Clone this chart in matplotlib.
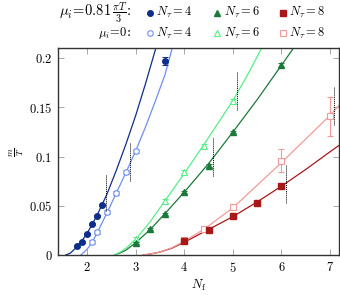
import matplotlib
matplotlib.use("Agg")
import matplotlib.pyplot as plt
from matplotlib.lines import Line2D
from matplotlib.ticker import FixedLocator, FixedFormatter

plt.rcParams['mathtext.fontset'] = 'cm'
plt.rcParams['font.family'] = ['DejaVu Serif']

# ---------------- data ----------------
# mu_i = 0.81 pi T/3 (filled)
x_b1 = [1.8, 1.9, 2.0, 2.1, 2.2, 2.3, 3.6]
y_b1 = [0.009, 0.013, 0.021, 0.032, 0.040, 0.051, 0.197]
e_b1 = [0.001, 0.001, 0.001, 0.001, 0.001, 0.001, 0.004]
x_g1 = [3.0, 3.3, 3.6, 4.0, 4.5, 5.0, 6.0]
y_g1 = [0.0125, 0.026, 0.042, 0.064, 0.091, 0.125, 0.193]
e_g1 = [0.001, 0.001, 0.001, 0.001, 0.002, 0.001, 0.002]
x_r1 = [4.0, 4.5, 5.0, 5.5, 6.0]
y_r1 = [0.014, 0.025, 0.040, 0.053, 0.070]
e_r1 = [0.001, 0.001, 0.001, 0.001, 0.002]
# mu_i = 0 (open)
x_b0 = [2.1, 2.2, 2.4, 2.6, 2.8, 3.0]
y_b0 = [0.0135, 0.023, 0.044, 0.063, 0.084, 0.106]
e_b0 = [0.002, 0.002, 0.002, 0.002, 0.002, 0.002]
x_g0 = [3.0, 3.6, 4.0, 4.4, 5.0]
y_g0 = [0.016, 0.055, 0.084, 0.111, 0.157]
e_g0 = [0.002, 0.002, 0.002, 0.002, 0.002]
x_r0 = [4.0, 4.4, 5.0, 6.0, 7.0]
y_r0 = [0.015, 0.0265, 0.049, 0.096, 0.141]
e_r0 = [0.002, 0.003, 0.002, 0.012, 0.020]

# fit curves
fx_b1 = [1.56, 1.65, 1.7, 1.8, 1.9, 2.0, 2.2, 2.4, 2.6, 2.8, 3.0, 3.2, 3.4, 3.42]
fy_b1 = [0.0, 0.0018, 0.004, 0.009, 0.015, 0.022, 0.040, 0.061, 0.086, 0.113, 0.142, 0.174, 0.208, 0.212]
fx_b0 = [1.87, 1.95, 2.0, 2.1, 2.2, 2.4, 2.6, 2.8, 3.0, 3.2, 3.4, 3.6, 3.76]
fy_b0 = [0.0, 0.0035, 0.006, 0.0125, 0.022, 0.042, 0.063, 0.084, 0.106, 0.130, 0.156, 0.183, 0.212]
fx_g1 = [2.56, 2.7, 2.8, 3.0, 3.3, 3.6, 4.0, 4.5, 5.0, 5.5, 6.0, 6.27]
fy_g1 = [0.0, 0.0025, 0.005, 0.0125, 0.026, 0.042, 0.064, 0.093, 0.125, 0.158, 0.193, 0.212]
fx_g0 = [2.56, 2.7, 2.8, 3.0, 3.3, 3.6, 4.0, 4.4, 5.0, 5.3, 5.61]
fy_g0 = [0.0, 0.0035, 0.007, 0.016, 0.034, 0.055, 0.083, 0.112, 0.157, 0.183, 0.212]
fx_r1 = [3.15, 3.3, 3.5, 3.75, 4.0, 4.5, 5.0, 5.5, 6.0, 6.5, 7.0, 7.2]
fy_r1 = [0.0, 0.001, 0.003, 0.007, 0.013, 0.026, 0.039, 0.054, 0.070, 0.087, 0.105, 0.112]
fx_r0 = [3.15, 3.3, 3.5, 3.75, 4.0, 4.4, 5.0, 5.5, 6.0, 6.5, 7.0, 7.2]
fy_r0 = [0.0, 0.001, 0.003, 0.0075, 0.014, 0.026, 0.048, 0.071, 0.094, 0.118, 0.142, 0.153]

# vertical dotted markers
dot_x = [2.39, 2.89, 4.59, 5.09, 6.09, 7.08]
dot_lo = [0.045, 0.075, 0.080, 0.147, 0.0525, 0.132]
dot_hi = [0.081, 0.114, 0.120, 0.186, 0.092, 0.171]

xticks = [2, 3, 4, 5, 6, 7]
yticks = [0, 0.05, 0.1, 0.15, 0.2]
yticklabels = ['0', '0.05', '0.1', '0.15', '0.2']

# colours
c_b1, c_b0 = '#0f2d8a', '#6f8ff0'
c_g1, c_g0 = '#1b7a3a', '#55ee88'
c_r1, c_r0 = '#a81818', '#f29a9a'

# ---------------- figure ----------------
fig = plt.figure(figsize=(3.4, 2.95), dpi=100)
ax = fig.add_axes([58/340, 40/295, (339.3-58)/340, (255-47.5)/295])

for fx, fy, c in [(fx_b1, fy_b1, c_b1), (fx_b0, fy_b0, c_b0),
                  (fx_g1, fy_g1, c_g1), (fx_g0, fy_g0, c_g0),
                  (fx_r1, fy_r1, c_r1), (fx_r0, fy_r0, c_r0)]:
    ax.plot(fx, fy, color=c, lw=0.9, zorder=2)

ms = 4.0
for x, y, e, c, m in [(x_b1, y_b1, e_b1, c_b1, 'o'), (x_g1, y_g1, e_g1, c_g1, '^'),
                      (x_r1, y_r1, e_r1, c_r1, 's')]:
    ax.errorbar(x, y, yerr=e, fmt=m, color=c, ms=ms, mfc=c, mec=c,
                capsize=2, elinewidth=0.7, capthick=0.7, zorder=4)
for x, y, e, c, m in [(x_b0, y_b0, e_b0, c_b0, 'o'), (x_g0, y_g0, e_g0, c_g0, '^'),
                      (x_r0, y_r0, e_r0, c_r0, 's')]:
    ax.errorbar(x, y, yerr=e, fmt=m, color=c, ms=ms, mfc='white', mec=c, mew=0.8,
                capsize=2.5, elinewidth=0.8, capthick=0.8, zorder=3)

for x, lo, hi in zip(dot_x, dot_lo, dot_hi):
    ax.plot([x, x], [lo, hi], color='black', lw=0.7, ls=(0, (1, 1)), zorder=5)

ax.set_xlim(1.4, 7.19)
ax.set_ylim(0, 0.211)
ax.xaxis.set_major_locator(FixedLocator(xticks))
ax.xaxis.set_major_formatter(FixedFormatter(['$%d$' % t for t in xticks]))
ax.yaxis.set_major_locator(FixedLocator(yticks))
ax.yaxis.set_major_formatter(FixedFormatter(['$%s$' % t for t in yticklabels]))
ax.tick_params(direction='in', length=4, width=0.6, color='#999999',
               top=True, right=True, labelsize=9, pad=4)
for s in ax.spines.values():
    s.set_linewidth(1.0)
    s.set_color('#333333')

fig.text(199/340, 1 - 285/295, r'$N_\mathrm{f}$', ha='center', va='center', fontsize=9)
fig.text(17/340, 1 - 152/295, r'$\frac{m}{T}$', ha='center', va='center', fontsize=9,
         rotation=90)

# legend
row_y = [12.5, 33]
fig.text(131/340, 1 - row_y[0]/295, r'$\mu_i\!=\!0.81\,\frac{\pi T}{3}\!:$', ha='right',
         va='center', fontsize=10.5)
fig.text(131/340, 1 - row_y[1]/295, r'$\mu_i\!=\!0$:', ha='right', va='center', fontsize=9)
mk_x = [150, 217.5, 283]
labels = [r'$N_\tau = 4$', r'$N_\tau = 6$', r'$N_\tau = 8$']
for (mx, m, c1, c0, lab) in zip(mk_x, ['o', '^', 's'], [c_b1, c_g1, c_r1],
                                [c_b0, c_g0, c_r0], labels):
    fig.add_artist(Line2D([mx/340], [1 - row_y[0]/295], marker=m, ms=ms, color=c1,
                          mfc=c1, mec=c1, ls='none', transform=fig.transFigure))
    fig.add_artist(Line2D([mx/340], [1 - row_y[1]/295], marker=m, ms=ms, color=c0,
                          mfc='white', mec=c0, mew=0.8, ls='none',
                          transform=fig.transFigure))
    for ry in row_y:
        fig.text((mx + 6)/340, 1 - ry/295, lab, ha='left', va='center', fontsize=9)

fig.savefig('out.png', dpi=100)
